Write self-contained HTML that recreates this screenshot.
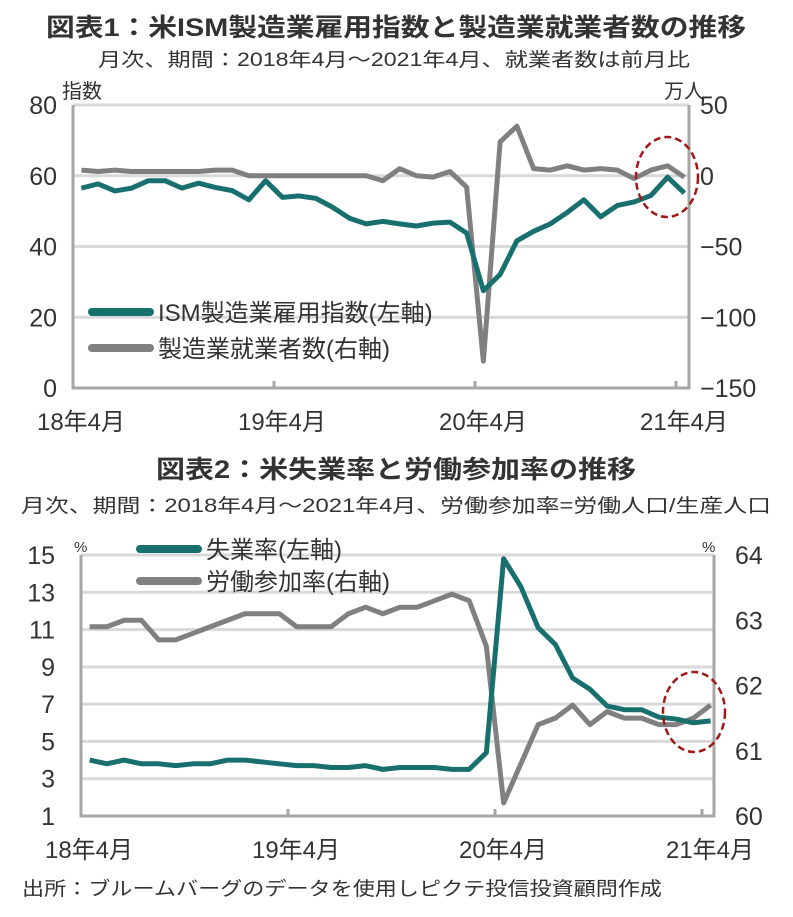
<!DOCTYPE html>
<html><head><meta charset="utf-8"><style>
html,body{margin:0;padding:0;background:#fff;}
svg{display:block;font-family:"Liberation Sans","Noto Sans CJK JP",sans-serif;}
</style></head><body>
<svg id="s" width="793" height="917" viewBox="0 0 793 917">
<text x="396" y="36" text-anchor="middle" font-size="25" font-weight="bold" fill="#333" textLength="700" lengthAdjust="spacingAndGlyphs">図表1：米ISM製造業雇用指数と製造業就業者数の推移</text>
<text x="394" y="66" text-anchor="middle" font-size="19" fill="#333" textLength="592" lengthAdjust="spacingAndGlyphs">月次、期間：2018年4月～2021年4月、就業者数は前月比</text>
<text x="62" y="98" font-size="20" fill="#333">指数</text>
<text x="664" y="98" font-size="20" fill="#333">万人</text>
<g id="c1"></g>
<text x="396" y="478" text-anchor="middle" font-size="25" font-weight="bold" fill="#333" textLength="480" lengthAdjust="spacingAndGlyphs">図表2：米失業率と労働参加率の推移</text>
<text x="396" y="512" text-anchor="middle" font-size="19" fill="#333" textLength="750" lengthAdjust="spacingAndGlyphs">月次、期間：2018年4月～2021年4月、労働参加率=労働人口/生産人口</text>
<text x="74" y="552" font-size="15" fill="#333">%</text>
<text x="702" y="552" font-size="15" fill="#333">%</text>
<g id="c2"></g>
<text x="22" y="895" font-size="19" fill="#333" textLength="640" lengthAdjust="spacingAndGlyphs">出所：ブルームバーグのデータを使用しピクテ投信投資顧問作成</text>
</svg>
<script>
const xLabels=["18年4月","19年4月","20年4月","21年4月"];
const ismIndex=[56.5,57.7,55.7,56.5,58.6,58.6,56.5,57.9,56.7,55.8,53.2,58.6,53.9,54.3,53.6,51.1,48.0,46.4,47.1,46.4,45.8,46.6,46.9,43.8,27.5,32.1,41.6,44.3,46.4,49.6,53.2,48.4,51.6,52.6,54.4,59.6,55.1];
const mfgJobs=[4,3,4,3,3,3,3,3,4,4,0,0,0,0,0,0,0,0,-3.5,5,0,-1,3,-8,-131,24,35,5,4,7,4,5,4,-2,4,7,-1];
const leftTicks1=[0,20,40,60,80];
const rightTicks1=[-150,-100,-50,0,50];
const unemp=[4.0,3.8,4.0,3.8,3.8,3.7,3.8,3.8,4.0,4.0,3.9,3.8,3.7,3.7,3.6,3.6,3.7,3.5,3.6,3.6,3.6,3.5,3.5,4.4,14.8,13.3,11.1,10.2,8.4,7.8,6.9,6.7,6.7,6.3,6.2,6.0,6.1];
const partic=[62.9,62.9,63.0,63.0,62.7,62.7,62.8,62.9,63.0,63.1,63.1,63.1,62.9,62.9,62.9,63.1,63.2,63.1,63.2,63.2,63.3,63.4,63.3,62.6,60.2,60.8,61.4,61.5,61.7,61.4,61.6,61.5,61.5,61.4,61.4,61.5,61.7];
const leftTicks2=[1,3,5,7,9,11,13,15];
const rightTicks2=[60,61,62,63,64];
const NS="http://www.w3.org/2000/svg";
function mk(p,t,a){const e=document.createElementNS(NS,t);for(const k in a)e.setAttribute(k,a[k]);p.appendChild(e);return e;}
function draw(gid,o){
 const g=document.getElementById(gid);
 const ly=v=>o.b-(v-o.lmin)/(o.lmax-o.lmin)*(o.b-o.t);
 const ry=v=>o.b-(v-o.rmin)/(o.rmax-o.rmin)*(o.b-o.t);
 const step=(o.tick1-o.l)/12;
 const xx=i=>o.l+(i+0.5)*step;
 o.lt.forEach((v,i)=>{
  if(i>0){const gl=mk(g,'line',{x1:o.l,x2:o.r,y1:ly(v),y2:ly(v),stroke:'#d9d9d9','stroke-width':3});
  
  }
  const t=mk(g,'text',{x:o.llx,y:ly(v)+9,'text-anchor':'end','font-size':25,fill:'#333'});t.textContent=v;
  
  
 });
 o.rt.forEach(v=>{
  const t=mk(g,'text',{x:o.rlx,y:ry(v)+9,'font-size':25,fill:'#333'});t.textContent=String(v).replace('-','−');
  
  
 });
 const ax=mk(g,'path',{d:`M${o.l},${o.t} V${o.b} H${o.r} V${o.t}`,fill:'none',stroke:'#a6a6a6','stroke-width':3});
 
 
 xLabels.forEach((s,k)=>{
  const x=o.l+k*12*step;
  if(k>0){const tk=mk(g,'line',{x1:x,x2:x,y1:o.b,y2:o.b-7,stroke:'#a6a6a6','stroke-width':3});
  
  }
  const t=mk(g,'text',{x:x+8,y:o.b+42,'text-anchor':'middle','font-size':24,fill:'#333'});t.textContent=s;
  
  
 });
 const p2=mk(g,'polyline',{points:o.s2.map((v,i)=>xx(i)+','+ry(v)).join(' '),fill:'none',stroke:'#808080','stroke-width':5,'stroke-linejoin':'round'});
 
 
 const p1=mk(g,'polyline',{points:o.s1.map((v,i)=>xx(i)+','+ly(v)).join(' '),fill:'none',stroke:'#17706e','stroke-width':5,'stroke-linejoin':'round'});
 
 
 const el=mk(g,'ellipse',{cx:o.ex,cy:o.ey,rx:31,ry:40,fill:'none',stroke:'#a01818','stroke-width':2.5,'stroke-dasharray':'7 4'});
 
 
 [[o.lg1,'#17706e',0],[o.lg2,'#808080',1]].forEach(([s,c,k])=>{
  const y=o.lgy+k*o.lgd;
  const ln=mk(g,'line',{x1:o.lgx,x2:o.lgx+58,y1:y,y2:y,stroke:c,'stroke-width':8,'stroke-linecap':'round'});
  
  
  const t=mk(g,'text',{x:o.lgx+66,y:y+9,'font-size':24,fill:'#333'});t.textContent=s;
  
  
 });
}
draw('c1',{l:73,r:689,t:105,b:388,tick1:274,lmin:0,lmax:80,rmin:-150,rmax:50,lt:leftTicks1,rt:rightTicks1,llx:57,rlx:700,s1:ismIndex,s2:mfgJobs,n1:'ism-employment-line',n2:'mfg-jobs-line',ex:667,ey:177,lg1:'ISM製造業雇用指数(左軸)',lg2:'製造業就業者数(右軸)',lgx:92,lgy:312,lgd:36});
draw('c2',{l:81,r:714,t:555,b:816,tick1:288,lmin:1,lmax:15,rmin:60,rmax:64,lt:leftTicks2,rt:rightTicks2,llx:55,rlx:735,s1:unemp,s2:partic,n1:'unemployment-line',n2:'participation-line',ex:694,ey:712,lg1:'失業率(左軸)',lg2:'労働参加率(右軸)',lgx:140,lgy:549,lgd:32});
</script>
</body></html>
